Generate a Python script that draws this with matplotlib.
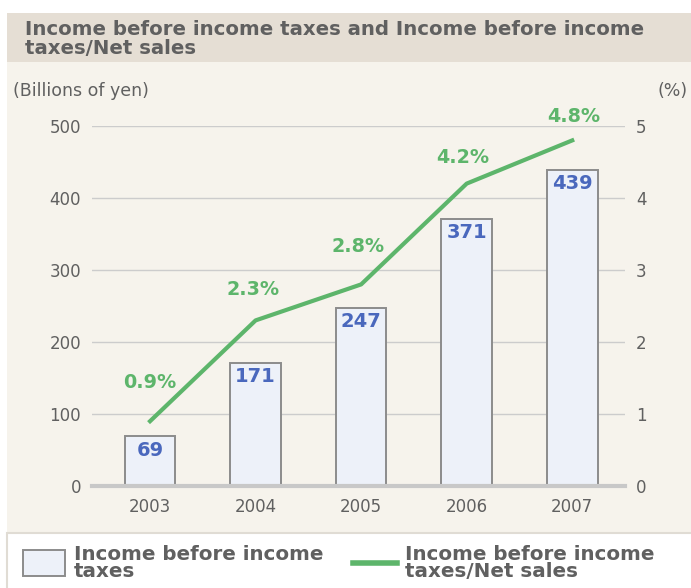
import matplotlib.pyplot as plt
from matplotlib.patches import Rectangle
from matplotlib.lines import Line2D

# データ
years = ['2003', '2004', '2005', '2006', '2007']
income = [69, 171, 247, 371, 439]
ratio = [0.9, 2.3, 2.8, 4.2, 4.8]
ratio_labels = ['0.9%', '2.3%', '2.8%', '4.2%', '4.8%']
left_ticks = [0, 100, 200, 300, 400, 500]
right_ticks = [0, 1, 2, 3, 4, 5]

# ラベルのずらし量 (points)
label_dx = [0, -2, -2, -3, 1]
label_dy = [28, 22, 27, 19, 17]

GREEN = '#5db56b'
BLUE = '#4a68bd'
TXT = '#606060'
W, H = 691, 588

plt.rcParams['font.family'] = ['DejaVu Sans']

fig = plt.figure(figsize=(W / 100, H / 100), dpi=100)
fig.patch.set_facecolor('white')


def fx(px):
    return px / W


def fy(py):
    return 1 - py / H


# 背景
fig.patches.append(Rectangle((fx(7), fy(62)), fx(684), 49 / H, transform=fig.transFigure,
                             facecolor='#e5ded4', edgecolor='none', zorder=-10))
fig.patches.append(Rectangle((fx(7), fy(533)), fx(684), 471 / H, transform=fig.transFigure,
                             facecolor='#f6f3ec', edgecolor='none', zorder=-10))
fig.patches.append(Rectangle((fx(7), fy(590)), fx(690), 57 / H, transform=fig.transFigure,
                             facecolor='white', edgecolor='#e0dcd4', linewidth=1.5, zorder=-10))

fig.text(fx(25), fy(39), 'Income before income taxes and Income before income\ntaxes/Net sales',
         fontsize=14.2, fontweight='bold', color=TXT, va='center', ha='left', linespacing=1.0)
fig.text(fx(13), fy(91), '(Billions of yen)', fontsize=12.5, color=TXT, va='center')
fig.text(fx(688), fy(91), '(%)', fontsize=12.5, color=TXT, va='center', ha='right')

ax = fig.add_axes([fx(92), fy(486), fx(533), 360 / H])
ax.set_facecolor('none')
x = list(range(len(years)))
ax.set_xlim(-0.55, 4.5)
ax.set_ylim(0, 500)

for t in left_ticks[1:]:
    ax.axhline(t, color='#cccccc', linewidth=1, zorder=0)
ax.axhline(0, color='#c8c8c8', linewidth=3, zorder=3, clip_on=False)

bars = ax.bar(x, income, width=0.48, color='#edf1f9', edgecolor='#8c8c8c', linewidth=1.4, zorder=2)
for xi, v in zip(x, income):
    ax.text(xi, v - 6, str(v), ha='center', va='top', fontsize=14, fontweight='bold', color=BLUE, zorder=4)

for s in ax.spines.values():
    s.set_visible(False)
ax.set_yticks(left_ticks)
ax.set_yticklabels([str(t) for t in left_ticks])
ax.set_xticks(x)
ax.set_xticklabels(years)
ax.tick_params(axis='both', length=0, labelsize=12, colors=TXT)
ax.tick_params(axis='y', pad=8)
ax.tick_params(axis='x', pad=9)

ax2 = ax.twinx()
ax2.set_ylim(0, 5)
ax2.set_yticks(right_ticks)
ax2.tick_params(axis='y', length=0, labelsize=12, colors=TXT, pad=8)
for s in ax2.spines.values():
    s.set_visible(False)
ax2.plot(x, ratio, color=GREEN, linewidth=3, zorder=5)
for xi, r, lab, dx, dy in zip(x, ratio, ratio_labels, label_dx, label_dy):
    ax2.annotate(lab, (xi, r), xytext=(dx, dy), textcoords='offset points', ha='center', va='center',
                 fontsize=13.8, fontweight='bold', color=GREEN, annotation_clip=False)

# 凡例
fig.patches.append(Rectangle((fx(23), fy(576)), fx(42), 26 / H, transform=fig.transFigure,
                             facecolor='#edf1f9', edgecolor='#8c8c8c', linewidth=1.4))
fig.text(fx(74), fy(563), 'Income before income\ntaxes', fontsize=14.3, fontweight='bold', color=TXT,
         va='center', ha='left', linespacing=0.88)
fig.lines.append(Line2D([fx(353), fx(397)], [fy(563), fy(563)], transform=fig.transFigure,
                        color=GREEN, linewidth=4))
fig.text(fx(405), fy(563), 'Income before income\ntaxes/Net sales', fontsize=14.3, fontweight='bold', color=TXT,
         va='center', ha='left', linespacing=0.88)

fig.savefig('out.png', dpi=100)
